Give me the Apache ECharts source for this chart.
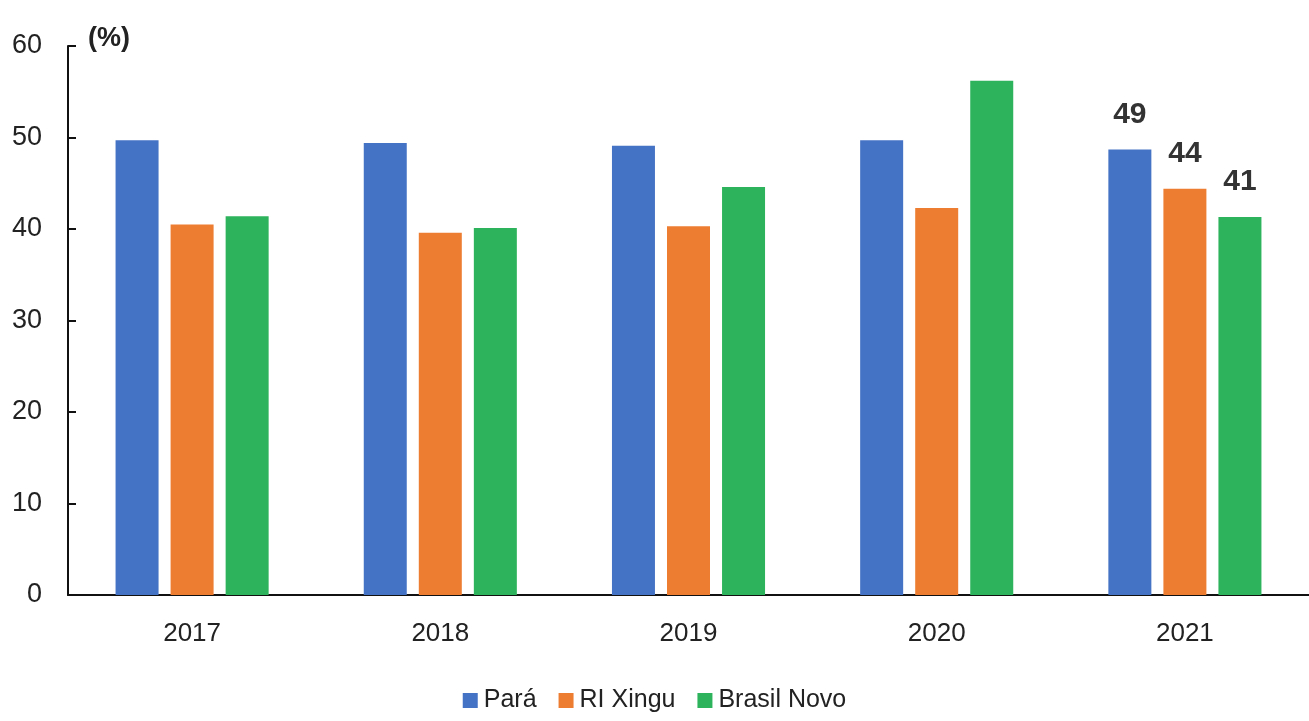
<!DOCTYPE html>
<html><head><meta charset="utf-8">
<script src="https://cdn.jsdelivr.net/npm/echarts@6/dist/echarts.min.js"></script>
<style>html,body{margin:0;padding:0;background:#fff}#c{width:1309px;height:721px}</style>
</head><body><div id="c"></div>
<script>
const categories = ['2017','2018','2019','2020','2021'];
const para = [49.7, 49.4, 49.1, 49.7, 48.7];
const riXingu = [40.5, 39.6, 40.3, 42.3, 44.4];
const brasilNovo = [41.4, 40.1, 44.6, 56.2, 41.3];
const labels2021 = {'Pará': '49', 'RI Xingu': '44', 'Brasil Novo': '41'};
const yTicks = [0,10,20,30,40,50,60];

const font = '"Liberation Sans", Arial, sans-serif';
function mk(name, data, color){
  return {
    name, type:'bar', data: data.map((v,i)=>({value:v, label:{show: i===categories.length-1}})),
    barWidth:43, barGap:'28%', itemStyle:{color},
    label:{position:'top', distance:20, fontFamily:font, fontSize:30, fontWeight:'bold', color:'#333',
      formatter:()=>labels2021[name]}
  };
}
const chart = echarts.init(document.getElementById('c'));
chart.setOption({
  animation:false,
  grid:{left:68, top:46, width:1248, height:549},
  legend:{bottom:3, left:'center', itemWidth:15, itemHeight:15, itemGap:22, icon:'rect',
    textStyle:{fontFamily:font, fontSize:25, color:'#222', padding:[0,0,0,1]}},
  xAxis:{type:'category', data:categories,
    axisLine:{lineStyle:{color:'#111', width:2}},
    axisTick:{inside:true, length:8, lineStyle:{color:'#111', width:2}},
    axisLabel:{margin:26, fontFamily:font, fontSize:26, color:'#222'}},
  yAxis:{type:'value', min:yTicks[0], max:yTicks[yTicks.length-1], interval:10,
    name:'(%)', nameLocation:'end', nameGap:-6,
    nameTextStyle:{fontFamily:font, fontSize:27, fontWeight:'bold', color:'#222', align:'left', padding:[0,0,0,20]},
    splitLine:{show:false},
    axisLine:{show:true, lineStyle:{color:'#111', width:2}},
    axisTick:{show:true, inside:true, length:8, lineStyle:{color:'#111', width:2}},
    axisLabel:{margin:26, fontFamily:font, fontSize:27, color:'#222'}},
  series:[
    mk('Pará', para, '#4472C4'),
    mk('RI Xingu', riXingu, '#ED7D31'),
    mk('Brasil Novo', brasilNovo, '#2DB35B')
  ]
});
</script></body></html>
